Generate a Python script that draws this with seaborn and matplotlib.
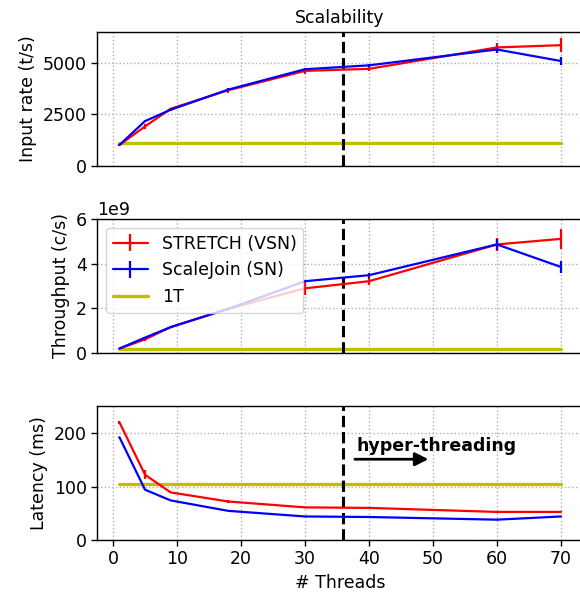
import numpy as np
import pandas as pd
import matplotlib
matplotlib.use("Agg")
import matplotlib.pyplot as plt
import seaborn as sns

# Thread counts used in the experiments
threads = [1, 5, 9, 18, 30, 40, 60, 70]

# Input rate (tuples/s)
rate_stretch = [1000, 1900, 2760, 3660, 4600, 4700, 5740, 5850]
rate_stretch_err = [30, 100, 60, 120, 130, 120, 200, 330]
rate_scalejoin = [1000, 2160, 2710, 3690, 4680, 4870, 5640, 5080]
rate_scalejoin_err = [30, 60, 60, 80, 60, 80, 150, 180]
rate_1t = 1100

# Throughput (comparisons/s)
thr_stretch = [0.19e9, 0.60e9, 1.15e9, 1.97e9, 2.89e9, 3.21e9, 4.86e9, 5.11e9]
thr_stretch_err = [0.02e9, 0.05e9, 0.05e9, 0.10e9, 0.30e9, 0.15e9, 0.30e9, 0.45e9]
thr_scalejoin = [0.19e9, 0.68e9, 1.15e9, 1.97e9, 3.21e9, 3.48e9, 4.86e9, 3.85e9]
thr_scalejoin_err = [0.02e9, 0.03e9, 0.03e9, 0.05e9, 0.05e9, 0.12e9, 0.25e9, 0.25e9]
thr_1t = 0.19e9

# Latency (ms)
lat_stretch = [220, 122, 89, 72, 61, 60, 52.5, 52.5]
lat_stretch_err = [3, 8, 1, 2, 1, 1, 1, 1]
lat_scalejoin = [192, 94, 74, 54.5, 44, 43, 38, 44]
lat_scalejoin_err = [1, 1, 1, 1, 1, 1, 1, 1]
lat_1t = 105

physical_cores = 36

sns.set_theme(style="ticks", rc={
    "axes.edgecolor": "black",
    "axes.linewidth": 1.0,
    "axes.grid": True,
    "grid.linestyle": ":",
    "grid.color": "#b0b0b0",
    "grid.linewidth": 1.0,
    "xtick.color": "black",
    "ytick.color": "black",
    "axes.labelcolor": "black",
    "text.color": "black",
})
plt.rcParams["font.family"] = ["DejaVu Sans"]
FS = 12.5
OLIVE = "#bfbf00"

fig, axes = plt.subplots(3, 1, figsize=(5.8, 6.0), dpi=100, sharex=True)
# the right edge of the panels runs slightly past the canvas
fig.subplots_adjust(left=0.168, right=1.02, top=0.947, bottom=0.1, hspace=0.4)

panels = [
    (rate_stretch, rate_stretch_err, rate_scalejoin, rate_scalejoin_err, rate_1t,
     "Input rate (t/s)", (0, 6500), [0, 2500, 5000]),
    (thr_stretch, thr_stretch_err, thr_scalejoin, thr_scalejoin_err, thr_1t,
     "Throughput (c/s)", (0, 6e9), [0, 2e9, 4e9, 6e9]),
    (lat_stretch, lat_stretch_err, lat_scalejoin, lat_scalejoin_err, lat_1t,
     "Latency (ms)", (0, 250), [0, 100, 200]),
]

handles = None
for i, (ax, (s, se, j, je, one, ylabel, ylim, yticks)) in enumerate(zip(axes, panels)):
    h1 = ax.errorbar(threads, s, yerr=se, color="red", lw=1.6, elinewidth=1.6,
                     label="STRETCH (VSN)")
    h2 = ax.errorbar(threads, j, yerr=je, color="blue", lw=1.6, elinewidth=1.6,
                     label="ScaleJoin (SN)")
    base = pd.DataFrame({"threads": threads, "value": [one] * len(threads)})
    sns.lineplot(data=base, x="threads", y="value", color=OLIVE, lw=2.4,
                 ax=ax, legend=False)
    h3 = ax.get_lines()[-1]
    h3.set_label("1T")
    if i == 1:
        handles = [h1, h2, h3]
    ax.axvline(physical_cores, color="black", ls="--", lw=2.2)
    ax.set_xlim(-2.44, 74.8)
    ax.set_ylim(*ylim)
    ax.set_yticks(yticks)
    ax.set_ylabel(ylabel, fontsize=FS)
    ax.set_xlabel("")
    ax.tick_params(labelsize=FS, length=4, width=1.0)
    ax.yaxis.get_offset_text().set_fontsize(FS)
    if i < 2:
        ax.tick_params(axis="x", bottom=False, labelbottom=False)

axes[0].set_title("Scalability", fontsize=FS, x=0.491)
axes[2].set_xticks(np.arange(0, 71, 10))
axes[2].set_xlabel("# Threads", fontsize=FS, x=0.491)

axes[1].legend(handles=handles, labels=[h.get_label() for h in handles],
               loc="upper left", fontsize=FS, framealpha=0.8, edgecolor="0.8",
               fancybox=True)

axes[2].annotate("", xy=(49.3, 151), xytext=(37.8, 151),
                 arrowprops=dict(arrowstyle="-|>", color="black", lw=2,
                                 mutation_scale=20, shrinkA=0, shrinkB=0))
axes[2].text(38.1, 167, "hyper-threading", fontsize=FS, fontweight="bold",
             va="baseline", ha="left")

fig.savefig("out.png", dpi=100)
